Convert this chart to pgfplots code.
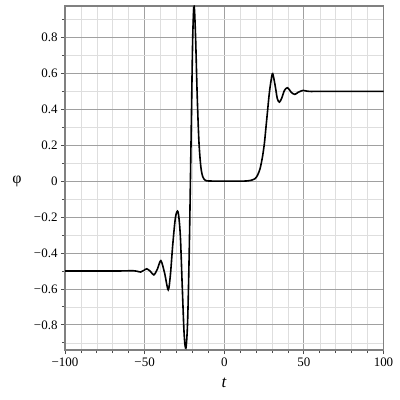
\documentclass[border=0pt]{standalone}
\usepackage{pgfplots}
\pgfplotsset{compat=1.18}
\usepackage{fontspec}
\setmainfont{Liberation Serif}
\definecolor{majgrid}{HTML}{A0A0A0}
\definecolor{mingrid}{HTML}{DEDEDE}
\definecolor{frame}{HTML}{808080}

\begin{document}
\begin{tikzpicture}[x=1bp,y=1bp]
  \path[use as bounding box] (0,0) rectangle (400,400);
  \begin{axis}[
    at={(65bp,50bp)}, anchor=south west,
    scale only axis, width=318.5bp, height=344bp,
    xmin=-100, xmax=100, ymin=-0.94, ymax=0.975,
    xtick={-100,-50,0,50,100},
    xticklabels={−100,−50,0,50,100},
    minor xtick={-90,-80,-70,-60,-40,-30,-20,-10,10,20,30,40,60,70,80,90},
    ytick={-0.8,-0.6,-0.4,-0.2,0,0.2,0.4,0.6,0.8},
    yticklabels={−0.8,−0.6,−0.4,−0.2,0,0.2,0.4,0.6,0.8},
    minor ytick={-0.9,-0.7,-0.5,-0.3,-0.1,0.1,0.3,0.5,0.7,0.9},
    grid=both,
    major grid style={majgrid, line width=0.8bp},
    minor grid style={mingrid, line width=0.6bp},
    axis line style={frame, line width=1.8bp},
    tick pos=left, tick align=outside,
    major tick length=4bp, minor tick length=3bp,
    every tick/.style={black!70, line width=0.8bp},
    ticklabel style={font=\fontsize{13}{15}\selectfont},
    xlabel={\textit{t}},
    xlabel style={at={(rel axis cs:0.5,0)}, anchor=center, yshift=-33bp,
      font=\fontsize{17}{19}\selectfont},
    ylabel={φ},
    ylabel style={at={(rel axis cs:0,0.49)}, anchor=center, rotate=-90,
      font=\fontsize{16}{18}\selectfont},
    every axis y label/.append style={xshift=-48bp},
  ]
    \addplot[black, line width=1.6bp, smooth] coordinates {
      (-100,-0.5) (-80,-0.5) (-65,-0.5) (-60,-0.499) (-57,-0.499)
      (-55,-0.501) (-52.5,-0.506) (-50.5,-0.497) (-48.6,-0.488)
      (-46.3,-0.503) (-44.2,-0.522) (-42,-0.49) (-39.8,-0.443)
      (-37.5,-0.51) (-35.2,-0.605) (-33.8,-0.52) (-32.3,-0.35)
      (-30.6,-0.2) (-29,-0.172) (-27.6,-0.3) (-26.4,-0.58)
      (-25.2,-0.85) (-24.1,-0.93) (-23,-0.78) (-21.9,-0.35)
      (-20.8,0.25) (-19.8,0.8) (-18.9,0.97) (-18,0.8) (-17,0.48)
      (-15.9,0.22) (-14.7,0.08) (-13.5,0.025) (-12,0.006)
      (-10,0.001) (0,0) (10,0) (14,0.001) (17,0.005)
      (19.5,0.015) (21,0.035) (22.5,0.07) (24,0.135) (25.2,0.21)
      (26.2,0.30) (27.3,0.40) (28.3,0.49) (29.4,0.56) (30.4,0.598)
      (32,0.53) (33.3,0.46) (34.6,0.44) (36,0.46) (37.8,0.505)
      (39.8,0.52) (42,0.495) (44.3,0.483) (46.5,0.495) (49.5,0.505)
      (52,0.501) (55,0.499) (60,0.5) (100,0.5)
    };
  \end{axis}
\end{tikzpicture}
\end{document}
